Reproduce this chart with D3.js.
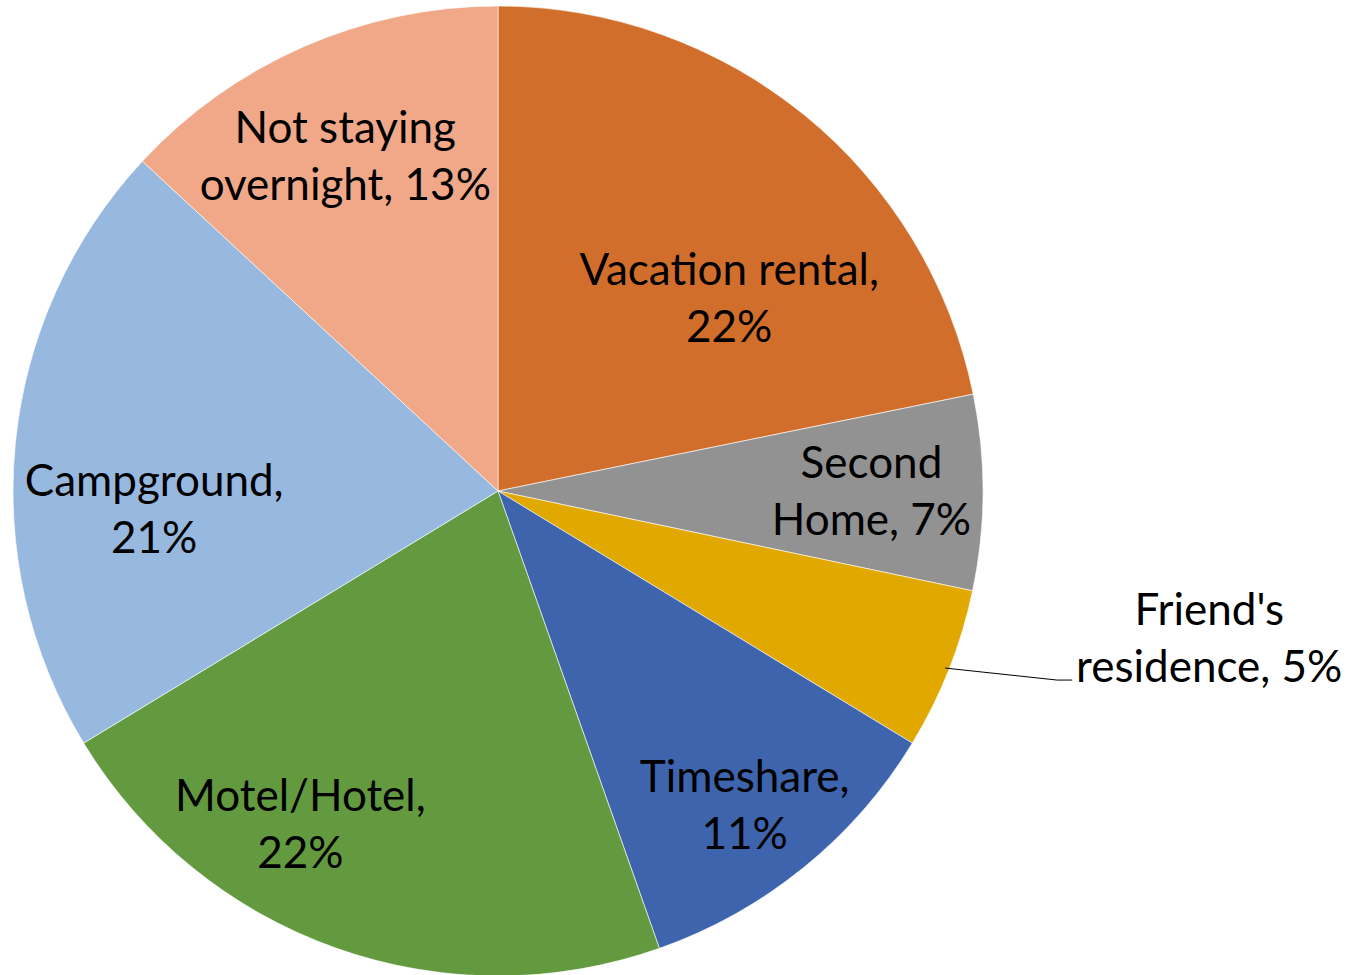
<!DOCTYPE html>
<html lang="en">
<head>
<meta charset="UTF-8">
<title>Overnight lodging</title>
<script src="https://d3js.org/d3.v7.min.js"></script>
<style>
  body { margin: 0; background: #fff; }
  svg { display: block; }
</style>
</head>
<body>
<script>
// slice data, clockwise from 12 o'clock
var categories = ["Vacation rental", "Second Home", "Friend's residence", "Timeshare", "Motel/Hotel", "Campground", "Not staying overnight"];
var values = [21.8, 6.5, 5.4, 10.9, 21.7, 20.6, 13.1];
var pctLabels = ["22%", "7%", "5%", "11%", "22%", "21%", "13%"];
var labelLines = [
  ["Vacation rental,", "22%"],
  ["Second", "Home, 7%"],
  ["Friend's", "residence, 5%"],
  ["Timeshare,", "11%"],
  ["Motel/Hotel,", "22%"],
  ["Campground,", "21%"],
  ["Not staying", "overnight, 13%"]
];
var colors = ["#D26E2B", "#929292", "#E1A800", "#3D64AD", "#639A3F", "#97B9E0", "#F0A889"];

var width = 1365, height = 975;
var cx = 498, cy = 491, radius = 485;

var svg = d3.select("body").append("svg")
    .attr("width", width)
    .attr("height", height);

var g = svg.append("g").attr("transform", "translate(" + cx + "," + cy + ")");

var pie = d3.pie().sort(null).value(function(d) { return d; });
var arcs = pie(values);

var arc = d3.arc().innerRadius(0).outerRadius(radius);

g.selectAll("path")
  .data(arcs)
  .enter()
  .append("path")
    .attr("d", arc)
    .attr("fill", function(d, i) { return colors[i]; })
    .attr("stroke", "#fff")
    .attr("stroke-width", 1)
    .attr("stroke-opacity", 0.6);

// label placement: radius fraction and angle nudge (deg) per slice, like Excel best fit
var labelR = [0.62, 0.77, 0, 0.825, 0.80, 0.71, 0.757];
var labelNudge = [11, 0, 0, 1, 11, -9, -1];
var fontSize = 44, lineH = 57;

function polar(r, a) {
  return [r * Math.sin(a), -r * Math.cos(a)];
}

arcs.forEach(function(d, i) {
  var p;
  if (i === 2) {
    // outside label with leader line
    var mid = (d.startAngle + d.endAngle) / 2;
    var e = polar(radius - 4, mid);
    var p1 = [e[0] + 112, e[1] + 12];
    var p2 = [p1[0] + 15, p1[1]];
    g.append("polyline")
      .attr("points", [e, p1, p2].map(function(q) { return q.join(","); }).join(" "))
      .attr("fill", "none")
      .attr("stroke", "#000")
      .attr("stroke-width", 1);
    p = [p2[0] + 137, p2[1] - 41];
  } else {
    var a = (d.startAngle + d.endAngle) / 2 + labelNudge[i] * Math.PI / 180;
    p = polar(radius * labelR[i], a);
  }
  var t = g.append("text")
    .attr("x", p[0])
    .attr("y", p[1])
    .attr("text-anchor", "middle")
    .attr("font-family", "Lato, 'Open Sans', sans-serif")
    .attr("font-size", fontSize)
    .attr("fill", "#000");
  labelLines[i].forEach(function(line, k) {
    t.append("tspan")
      .attr("x", p[0])
      .attr("y", p[1] + (k - 0.5) * lineH + fontSize * 0.33)
      .text(line);
  });
});
</script>
</body>
</html>
